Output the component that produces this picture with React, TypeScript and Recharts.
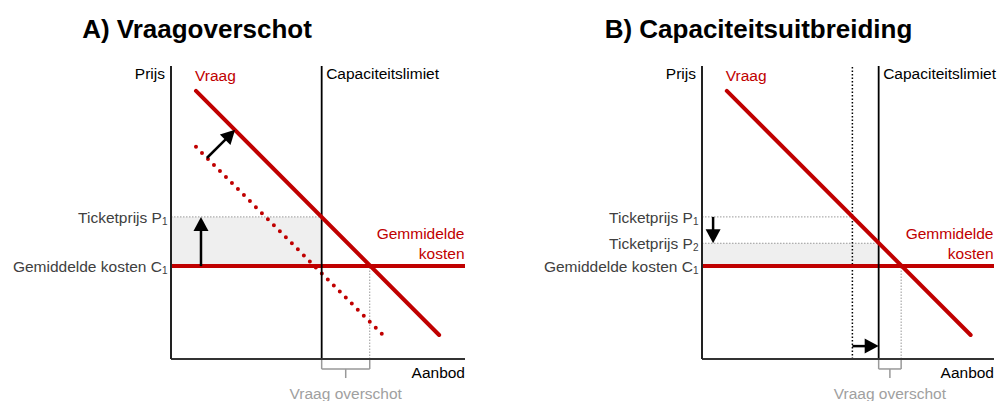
import React from 'react';
import {
  ComposedChart, Line, XAxis, YAxis, ReferenceLine, ReferenceArea, ReferenceDot,
} from 'recharts';

const FONT = "Arial, 'Liberation Sans', sans-serif";
const RED = '#c00000';
const GREY_TEXT = '#404040';
const GREY_LINE = '#999999';

// Panel A: Vraagoverschot
const demandA = [{ x: 8.5, y: 91.5 }, { x: 91.2, y: 8.2 }];
const oldDemandA = [{ x: 8.5, y: 72.4 }, { x: 72.1, y: 8.2 }];
const capacityA = 51.25;
const priceP1A = 48.5;
const excessEndA = 67.6;
const arrowsA = [
  { from: { x: 12.2, y: 68.6 }, to: { x: 21.8, y: 78.2 } },
  { from: { x: 10.2, y: 31.7 }, to: { x: 10.2, y: 48.5 } },
];

// Panel B: Capaciteitsuitbreiding
const demandB = [{ x: 8.5, y: 91.5 }, { x: 92, y: 8.2 }];
const oldCapacityB = 51.5;
const capacityB = 60.5;
const priceP1B = 48.5;
const priceP2B = 39.5;
const excessEndB = 68.2;
const arrowsB = [
  { from: { x: 3.8, y: 48.5 }, to: { x: 3.8, y: 39.5 } },
  { from: { x: 51.5, y: 4.4 }, to: { x: 60.5, y: 4.4 } },
];

const costC1 = 31.7;
const prijsLevel = 97.5;
const aanbodLevel = 100;

const Txt = ({ viewBox, dx = 0, dy = 0, text, anchor = 'start', fill = '#000', size = 15.5 }: any) => (
  <text x={viewBox.x + dx} y={viewBox.y + dy} textAnchor={anchor} dominantBaseline="central"
        fill={fill} fontSize={size} fontFamily={FONT}>{text}</text>
);

const CostLabel = ({ viewBox }: any) => {
  const x = viewBox.x + viewBox.width - 0.5;
  return (
    <text textAnchor="end" dominantBaseline="central" fill={RED} fontSize={15.5} fontFamily={FONT}>
      <tspan x={x} y={viewBox.y - 33}>Gemmidelde</tspan>
      <tspan x={x} y={viewBox.y - 13}>kosten</tspan>
    </text>
  );
};

const ArrowShape = (p: any) => {
  const { x1, y1, x2, y2 } = p;
  const dx = x2 - x1, dy = y2 - y1;
  const len = Math.hypot(dx, dy) || 1;
  const ux = dx / len, uy = dy / len;
  const hl = 14, hw = 7.5;
  const bx = x2 - ux * hl, by = y2 - uy * hl;
  return (
    <g>
      <line x1={x1} y1={y1} x2={bx + ux} y2={by + uy} stroke="#000" strokeWidth={2.5} />
      <polygon points={`${x2},${y2} ${bx - uy * hw},${by + ux * hw} ${bx + uy * hw},${by - ux * hw}`} fill="#000" />
    </g>
  );
};

const makeYTick = (labels: Record<string, [string, string]>) => (props: any) => {
  const { x, y, payload } = props;
  if (payload.value === prijsLevel) {
    return <text x={x - 6} y={y} textAnchor="end" dominantBaseline="central" fill="#000"
                 fontSize={15.5} fontFamily={FONT}>Prijs</text>;
  }
  const l = labels[String(payload.value)];
  if (!l) return null;
  return (
    <text x={x - 3.5} y={y} textAnchor="end" dominantBaseline="central" fill={GREY_TEXT}
          fontSize={15.5} fontFamily={FONT}>
      <tspan>{l[0]}</tspan>
      <tspan fontSize={10} dy={4}>{l[1]}</tspan>
    </text>
  );
};

const XTick = (props: any) => {
  const { x, y, payload } = props;
  if (payload.value === aanbodLevel) {
    return <text x={x} y={y + 13} textAnchor="end" dominantBaseline="central" fill="#000"
                 fontSize={15.5} fontFamily={FONT}>Aanbod</text>;
  }
  return <text x={x} y={y + 34} textAnchor="middle" dominantBaseline="central" fill="#a0a0a0"
               fontSize={15.5} fontFamily={FONT}>Vraag overschot</text>;
};

interface PanelProps {
  width: number;
  yAxisWidth: number;
  marginRight: number;
  demand: { x: number; y: number }[];
  oldDemand?: { x: number; y: number }[];
  capacity: number;
  oldCapacity?: number;
  prices: { value: number; label: [string, string]; end: number }[];
  shadeTop: number;
  shadeEnd: number;
  excessEnd: number;
  arrows: { from: { x: number; y: number }; to: { x: number; y: number } }[];
}

const Panel: React.FC<PanelProps> = ({
  width, yAxisWidth, marginRight, demand, oldDemand, capacity, oldCapacity,
  prices, shadeTop, shadeEnd, excessEnd, arrows,
}) => {
  const labels: Record<string, [string, string]> = { [String(costC1)]: ['Gemiddelde kosten C', '1'] };
  prices.forEach(p => { labels[String(p.value)] = p.label; });
  const yTicks = [costC1, ...prices.map(p => p.value), prijsLevel];
  const mid = (capacity + excessEnd) / 2;
  return (
    <ComposedChart width={width} height={401} margin={{ top: 66, right: marginRight, bottom: 0, left: 0 }}>
      <XAxis type="number" dataKey="x" domain={[0, 100]} ticks={[mid, aanbodLevel]} interval={0}
             height={42} tickSize={0} tickMargin={0} tickLine={false} tick={<XTick />}
             axisLine={{ stroke: '#333', strokeWidth: 2 }} />
      <YAxis type="number" dataKey="y" domain={[0, 100]} ticks={yTicks} interval={0}
             width={yAxisWidth} tickSize={0} tickMargin={0} tickLine={false} tick={makeYTick(labels)}
             axisLine={{ stroke: '#222', strokeWidth: 2 }} />
      <ReferenceArea x1={0} x2={shadeEnd} y1={costC1} y2={shadeTop} fill="#efefef" fillOpacity={1} stroke="none" />
      {prices.map(p => (
        <ReferenceLine key={p.value} segment={[{ x: 0, y: p.value }, { x: p.end, y: p.value }]}
                       stroke={GREY_LINE} strokeWidth={1} strokeDasharray="1.5 1.5" />
      ))}
      <ReferenceLine segment={[{ x: excessEnd, y: 0 }, { x: excessEnd, y: costC1 }]}
                     stroke={GREY_LINE} strokeWidth={1} strokeDasharray="1.5 1.5" />
      {oldCapacity !== undefined && (
        <ReferenceLine x={oldCapacity} stroke="#000" strokeWidth={1.5} strokeDasharray="1.5 2" />
      )}
      {oldDemand && (
        <Line data={oldDemand} dataKey="y" stroke={RED} strokeWidth={4} strokeDasharray="0 8.5"
              strokeLinecap="round" dot={false} activeDot={false} isAnimationActive={false} />
      )}
      <ReferenceLine y={costC1} stroke={RED} strokeWidth={4} label={<CostLabel />} />
      <ReferenceLine x={capacity} stroke="#000" strokeWidth={1.8}
                     label={<Txt dx={4.5} dy={7.5} text="Capaciteitslimiet" />} />
      <Line data={demand} dataKey="y" stroke={RED} strokeWidth={4} strokeLinecap="round"
            dot={false} activeDot={false} isAnimationActive={false} />
      <ReferenceDot x={demand[0].x} y={demand[0].y} r={0} fill="none" stroke="none"
                    label={<Txt dx={-1} dy={-15.5} text="Vraag" fill={RED} />} />
      {/* bracket under the axis */}
      <ReferenceLine ifOverflow="visible" stroke={GREY_LINE} strokeWidth={1.5}
                     segment={[{ x: capacity, y: 0 }, { x: capacity, y: -3.4 }]} />
      <ReferenceLine ifOverflow="visible" stroke={GREY_LINE} strokeWidth={1.5}
                     segment={[{ x: excessEnd, y: 0 }, { x: excessEnd, y: -3.4 }]} />
      <ReferenceLine ifOverflow="visible" stroke={GREY_LINE} strokeWidth={1.5}
                     segment={[{ x: capacity, y: -3.4 }, { x: excessEnd, y: -3.4 }]} />
      <ReferenceLine ifOverflow="visible" stroke={GREY_LINE} strokeWidth={1.5}
                     segment={[{ x: mid, y: -3.4 }, { x: mid, y: -6.5 }]} />
      {arrows.map((a, i) => (
        <ReferenceLine key={i} ifOverflow="visible" segment={[a.from, a.to]} shape={ArrowShape} />
      ))}
    </ComposedChart>
  );
};

const titleStyle: React.CSSProperties = {
  position: 'absolute', top: 16, width: 400, fontFamily: FONT, fontWeight: 'bold', fontSize: 26,
  lineHeight: '26px', textAlign: 'center', whiteSpace: 'nowrap', color: '#000',
};

export default function App() {
  return (
    <div style={{ position: 'absolute', left: 0, top: 0, width: 998, height: 401, background: '#fff', overflow: 'hidden' }}>
      <div style={{ position: 'absolute', left: 0, top: 0 }}>
        <Panel width={499} yAxisWidth={171} marginRight={34} demand={demandA} oldDemand={oldDemandA}
               capacity={capacityA}
               prices={[{ value: priceP1A, label: ['Ticketprijs P', '1'], end: capacityA }]}
               shadeTop={priceP1A} shadeEnd={capacityA} excessEnd={excessEndA} arrows={arrowsA} />
      </div>
      <div style={{ position: 'absolute', left: 499, top: 0 }}>
        <Panel width={499} yAxisWidth={203} marginRight={4} demand={demandB}
               capacity={capacityB} oldCapacity={oldCapacityB}
               prices={[
                 { value: priceP1B, label: ['Ticketprijs P', '1'], end: oldCapacityB },
                 { value: priceP2B, label: ['Ticketprijs P', '2'], end: capacityB },
               ]}
               shadeTop={priceP2B} shadeEnd={capacityB} excessEnd={excessEndB} arrows={arrowsB} />
      </div>
      <div style={{ ...titleStyle, left: -3 }}>A) Vraagoverschot</div>
      <div style={{ ...titleStyle, left: 558.5 }}>B) Capaciteitsuitbreiding</div>
    </div>
  );
}
